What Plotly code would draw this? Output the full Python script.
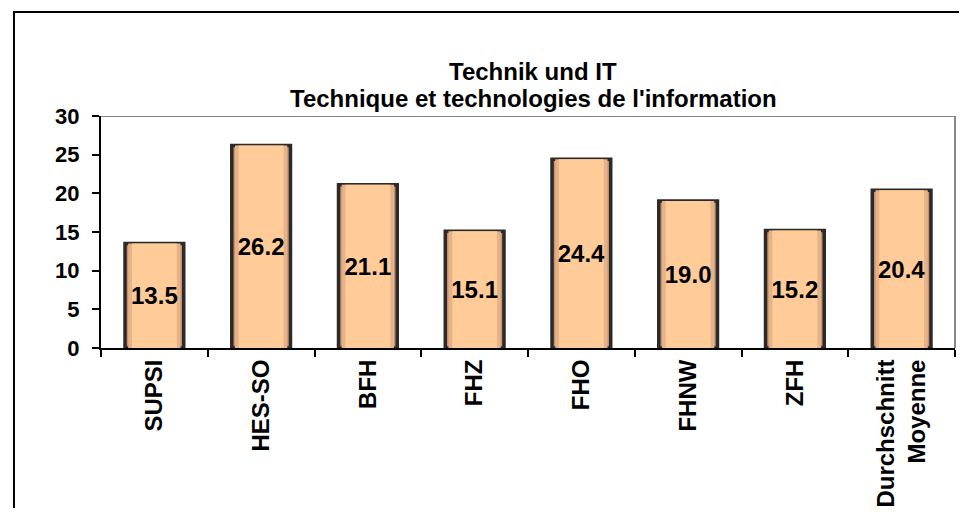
import plotly.graph_objects as go

categories = ["SUPSI", "HES-SO", "BFH", "FHZ", "FHO", "FHNW", "ZFH", "Durchschnitt<br>Moyenne"]
values = [13.5, 26.2, 21.1, 15.1, 24.4, 19.0, 15.2, 20.4]
y_ticks = [0, 5, 10, 15, 20, 25, 30]
title_lines = ["Technik und IT", "Technique et technologies de l'information"]

FONT = "Liberation Sans, Arial, sans-serif"

fig = go.Figure()
# outer body with dark outline
fig.add_trace(go.Bar(
    x=categories, y=values, width=0.55,
    marker=dict(color="#C49270", line=dict(color="#2a2a2a", width=3.5)),
    hoverinfo="skip", showlegend=False,
))
# bevel layer
fig.add_trace(go.Bar(
    x=categories, y=values, width=0.49,
    marker=dict(color="#E6B388", line=dict(width=0)),
    hoverinfo="skip", showlegend=False,
))
# inner face with value labels
fig.add_trace(go.Bar(
    x=categories, y=values, width=0.42,
    marker=dict(color="#FFCB98", line=dict(width=0)),
    text=[f"{v:.1f}" for v in values],
    textposition="inside", insidetextanchor="middle", constraintext="none",
    textangle=0,
    textfont=dict(family=FONT, size=24, color="black", weight="bold"),
    showlegend=False,
))

annotations = [
    dict(text=f"<b>{t}</b>", xref="paper", yref="paper", x=0.506, y=yy,
         xanchor="center", yanchor="middle", showarrow=False,
         font=dict(family=FONT, size=24, color="black"))
    for t, yy in zip(title_lines, [1.192, 1.077])
]

fig.update_layout(
    width=951, height=500,
    margin=dict(l=93, r=4, t=108, b=160),
    paper_bgcolor="white", plot_bgcolor="white",
    barmode="overlay",
    annotations=annotations,
    xaxis=dict(
        type="category", tickson="boundaries", ticks="outside", ticklen=7,
        tickcolor="black", tickwidth=2, showline=True, linecolor="black", linewidth=2,
        tickangle=-90, showgrid=False, automargin=False,
        tickfont=dict(family=FONT, size=24, color="black", weight="bold"),
    ),
    yaxis=dict(
        range=[0, 30], tickvals=y_ticks, ticks="outside", ticklen=7,
        tickcolor="black", tickwidth=2, showline=True, linecolor="black", linewidth=2,
        showgrid=False, zeroline=False, automargin=False, ticklabelstandoff=8,
        tickfont=dict(family=FONT, size=22, color="black", weight="bold"),
    ),
    shapes=[
        dict(type="line", xref="paper", yref="y", x0=0, x1=1, y0=30, y1=30,
             line=dict(color="#888888", width=2)),
        dict(type="line", xref="paper", yref="paper", x0=1, x1=1, y0=0, y1=1,
             line=dict(color="#888888", width=2)),
        dict(type="rect", xref="paper", yref="paper", x0=-0.1019, x1=1.05,
             y0=-0.8, y1=1.448, line=dict(color="black", width=2), layer="below"),
    ],
)

fig.write_html("out.html")
